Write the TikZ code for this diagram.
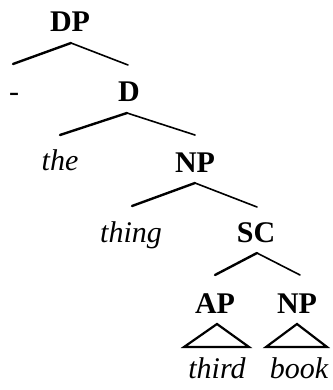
\documentclass[tikz,border=0pt]{standalone}
\usepackage{fontspec}
\setmainfont{Liberation Serif}
\begin{document}
\begin{tikzpicture}[x=1pt,y=-1pt,
  cat/.style={anchor=base,inner sep=0pt,font=\fontsize{30}{36}\selectfont\bfseries},
  word/.style={anchor=base,inner sep=0pt,font=\fontsize{30}{36}\selectfont\itshape},
  lbr/.style={line width=2.4pt,line cap=round},
  rbr/.style={line width=1.6pt,line cap=round},
  tri/.style={line width=2.2pt,line join=miter}]
\useasboundingbox (0,0) rectangle (332,390);
% nodes
\node[cat] (DP) at (70,32) {DP};
\node[anchor=base,inner sep=0pt,font=\fontsize{30}{36}\selectfont] (dash) at (14,102) {-};
\node[cat] (D) at (129,102) {D};
\node[word] (the) at (60,170) {the};
\node[cat] (NP1) at (195,172) {NP};
\node[word] (thing) at (131,242) {thing};
\node[cat] (SC) at (256,242) {SC};
\node[cat] (AP) at (215,313) {AP};
\node[cat] (NP2) at (297,313) {NP};
\node[word] (third) at (217,378) {third};
\node[word] (book) at (299,378) {book};
% branch points
\coordinate (DPa) at (71,43);  \coordinate (DPl) at (13,64);  \coordinate (DPr) at (128,65);
\coordinate (Da) at (127,113); \coordinate (Dl) at (60,135);  \coordinate (Dr) at (195,135);
\coordinate (NPa) at (195,183); \coordinate (NPl) at (132,206); \coordinate (NPr) at (257,207);
\coordinate (SCa) at (257,253); \coordinate (SCl) at (215,275); \coordinate (SCr) at (300,275);
\coordinate (APa) at (217,324); \coordinate (APl) at (184,347); \coordinate (APr) at (249,347);
\coordinate (NQa) at (297,324); \coordinate (NQl) at (266,347); \coordinate (NQr) at (327,347);
% branches
\draw[lbr] (DPa) -- (DPl); \draw[rbr] (DPa) -- (DPr);
\draw[lbr] (Da) -- (Dl);   \draw[rbr] (Da) -- (Dr);
\draw[lbr] (NPa) -- (NPl); \draw[rbr] (NPa) -- (NPr);
\draw[lbr] (SCa) -- (SCl); \draw[rbr] (SCa) -- (SCr);
\draw[tri] (APa) -- (APl) -- (APr) -- cycle;
\draw[tri] (NQa) -- (NQl) -- (NQr) -- cycle;
\end{tikzpicture}
\end{document}
